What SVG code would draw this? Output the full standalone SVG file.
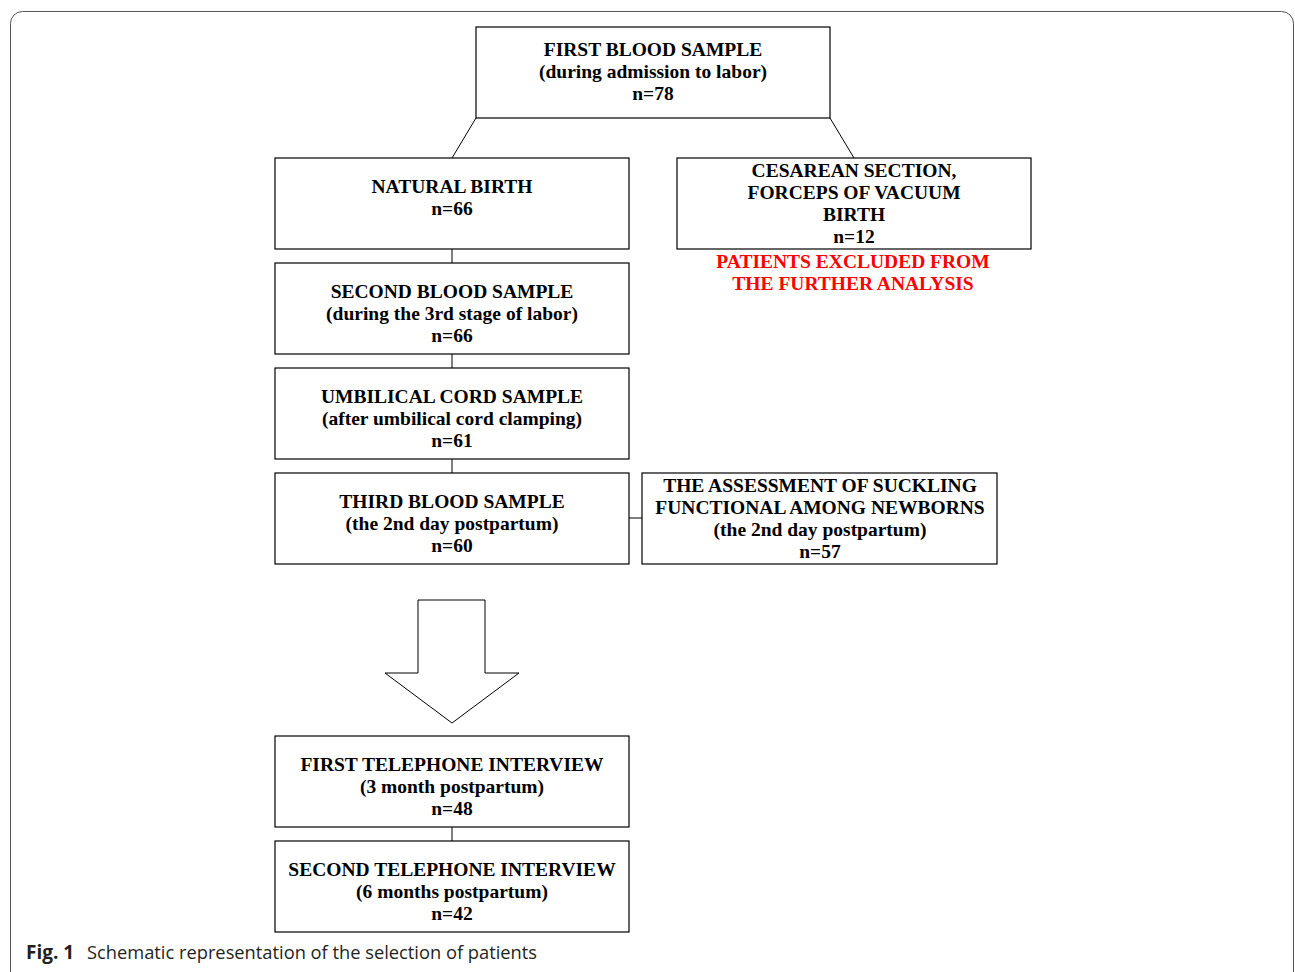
<svg xmlns="http://www.w3.org/2000/svg" width="1295" height="972" viewBox="0 0 1295 972">
<style>
.box{fill:#fff;stroke:#000;stroke-width:1.2}
.t{font-family:"Liberation Serif","Times New Roman",serif;font-weight:bold;font-size:19.5px;text-anchor:middle;fill:#000}
.red{fill:#ff0000}
.c{stroke:#000;stroke-width:1;fill:none}
</style>
<rect x="10.5" y="11.5" width="1283" height="990" rx="12" fill="#fff" stroke="#555" stroke-width="1"/>
<g id="connectors">
<line class="c" x1="476" y1="118" x2="452" y2="158"/>
<line class="c" x1="830" y1="118" x2="854" y2="158"/>
<line class="c" x1="452" y1="249" x2="452" y2="263"/>
<line class="c" x1="452" y1="354" x2="452" y2="368"/>
<line class="c" x1="452" y1="459" x2="452" y2="473"/>
<line class="c" x1="629" y1="518" x2="642" y2="518"/>
<line class="c" x1="452" y1="827" x2="452" y2="841"/>
<polygon id="bigarrow" class="c" points="418,600 485,600 485,673 519,673 452,723 385,673 418,673"/>
</g>
<g id="n1"><rect class="box" x="476" y="27" width="354" height="91"/>
<text class="t" x="653" y="56">FIRST BLOOD SAMPLE</text>
<text class="t" x="653" y="78">(during admission to labor)</text>
<text class="t" x="653" y="100">n=78</text></g>
<g id="n2"><rect class="box" x="275" y="158" width="354" height="91"/>
<text class="t" x="452" y="193">NATURAL BIRTH</text>
<text class="t" x="452" y="215">n=66</text></g>
<g id="n3"><rect class="box" x="677" y="158" width="354" height="91"/>
<text class="t" x="854" y="177">CESAREAN SECTION,</text>
<text class="t" x="854" y="199">FORCEPS OF VACUUM</text>
<text class="t" x="854" y="221">BIRTH</text>
<text class="t" x="854" y="243">n=12</text></g>
<g id="excluded">
<text class="t red" x="853" y="268">PATIENTS EXCLUDED FROM</text>
<text class="t red" x="853" y="290">THE FURTHER ANALYSIS</text></g>
<g id="n4"><rect class="box" x="275" y="263" width="354" height="91"/>
<text class="t" x="452" y="298">SECOND BLOOD SAMPLE</text>
<text class="t" x="452" y="320">(during the 3rd stage of labor)</text>
<text class="t" x="452" y="342">n=66</text></g>
<g id="n5"><rect class="box" x="275" y="368" width="354" height="91"/>
<text class="t" x="452" y="403">UMBILICAL CORD SAMPLE</text>
<text class="t" x="452" y="425">(after umbilical cord clamping)</text>
<text class="t" x="452" y="447">n=61</text></g>
<g id="n6"><rect class="box" x="275" y="473" width="354" height="91"/>
<text class="t" x="452" y="508">THIRD BLOOD SAMPLE</text>
<text class="t" x="452" y="530">(the 2nd day postpartum)</text>
<text class="t" x="452" y="552">n=60</text></g>
<g id="n7"><rect class="box" x="642" y="473" width="355" height="91"/>
<text class="t" x="820" y="492">THE ASSESSMENT OF SUCKLING</text>
<text class="t" x="820" y="514">FUNCTIONAL AMONG NEWBORNS</text>
<text class="t" x="820" y="536">(the 2nd day postpartum)</text>
<text class="t" x="820" y="558">n=57</text></g>
<g id="n8"><rect class="box" x="275" y="736" width="354" height="91"/>
<text class="t" x="452" y="771">FIRST TELEPHONE INTERVIEW</text>
<text class="t" x="452" y="793">(3 month postpartum)</text>
<text class="t" x="452" y="815">n=48</text></g>
<g id="n9"><rect class="box" x="275" y="841" width="354" height="91"/>
<text class="t" x="452" y="876">SECOND TELEPHONE INTERVIEW</text>
<text class="t" x="452" y="898">(6 months postpartum)</text>
<text class="t" x="452" y="920">n=42</text></g>
<g id="caption">
<text x="26" y="959" font-family="'Open Sans','Noto Sans',sans-serif" font-size="19" fill="#231f20"><tspan font-weight="bold">Fig. 1</tspan><tspan x="87" font-size="18.3">Schematic representation of the selection of patients</tspan></text>
</g>
</svg>
